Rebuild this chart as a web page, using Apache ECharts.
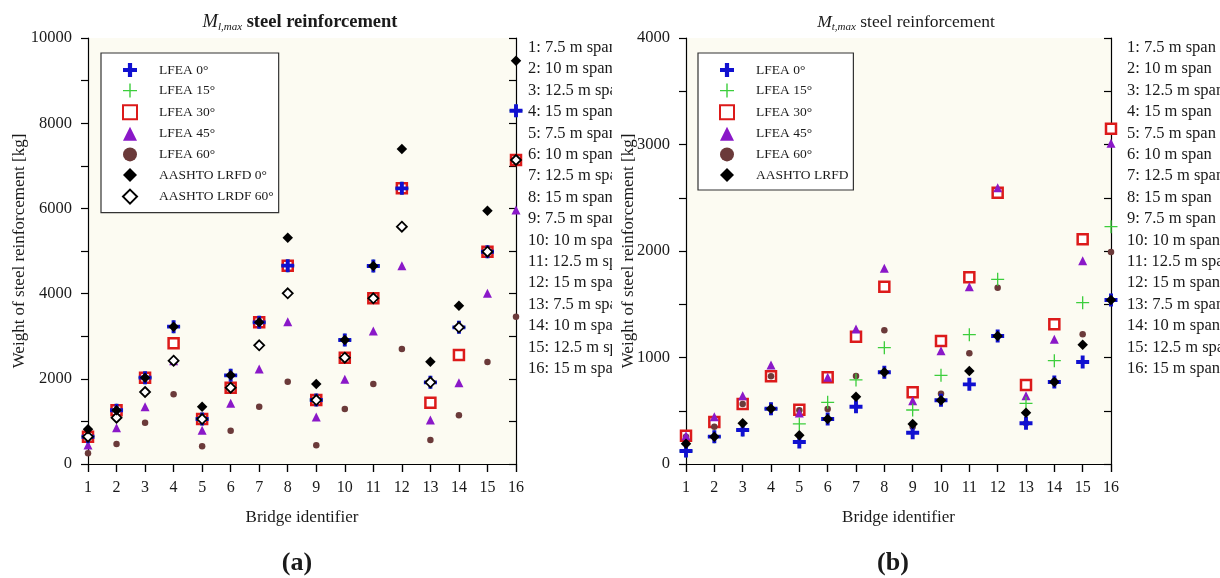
<!DOCTYPE html>
<html>
<head>
<meta charset="utf-8">
<script src="https://cdn.jsdelivr.net/npm/echarts@6/dist/echarts.min.js"></script>
<style>
html, body { margin: 0; padding: 0; background: #fff; }
#wrap { position: relative; width: 1220px; height: 578px; overflow: hidden; }
#chartA { position: absolute; left: 0; top: 0; width: 612px; height: 578px; }
#chartB { position: absolute; left: 612px; top: 0; width: 608px; height: 578px; }
</style>
</head>
<body>
<div id="wrap"><div id="chartA"></div><div id="chartB"></div></div>
<script>
// bridge ids on x axis
const bridgeIds = [1, 2, 3, 4, 5, 6, 7, 8, 9, 10, 11, 12, 13, 14, 15, 16];
const spanLabels = [
    '1: 7.5 m span', '2: 10 m span', '3: 12.5 m span', '4: 15 m span',
    '5: 7.5 m span', '6: 10 m span', '7: 12.5 m span', '8: 15 m span',
    '9: 7.5 m span', '10: 10 m span', '11: 12.5 m span', '12: 15 m span',
    '13: 7.5 m span', '14: 10 m span', '15: 12.5 m span', '16: 15 m span'
];

// (a) M_l,max  [kg]
const lLfea0   = [641, 1260, 2027, 3224, 1056, 2081, 3325, 4656, 1502, 2911, 4648, 6471, 1917, 3208, 4984, 8294];
const lLfea15  = [641, 1260, 2027, 3224, 1056, 2081, 3325, 4656, 1502, 2911, 4648, 6471, 1917, 3208, 4984, 8294];
const lLfea30  = [641, 1260, 2027, 2833, 1056, 1792, 3325, 4656, 1502, 2496, 3889, 6471, 1440, 2559, 4984, 7136];
const lLfea45  = [446, 853, 1346, 2426, 790, 1424, 2230, 3341, 1103, 1987, 3122, 4656, 1033, 1909, 4006, 5962];
const lLfea60  = [250, 470, 970, 1636, 415, 783, 1346, 1933, 438, 1291, 1878, 2700, 563, 1142, 2394, 3458];
const lAashto0 = [815, 1260, 2027, 3224, 1346, 2081, 3325, 5313, 1878, 2911, 4648, 7394, 2402, 3717, 5946, 9468];
const lAashto60 = [641, 1088, 1690, 2426, 1056, 1792, 2786, 4006, 1502, 2496, 3889, 5571, 1917, 3208, 4984, 7136];

// (b) M_t,max  [kg]
const tLfea0   = [122, 257, 319, 519, 207, 423, 538, 861, 294, 598, 748, 1202, 382, 770, 958, 1540];
const tLfea15  = [122, 257, 319, 519, 376, 579, 789, 1092, 507, 833, 1214, 1734, 570, 970, 1515, 2228];
const tLfea30  = [266, 394, 563, 823, 510, 814, 1196, 1665, 673, 1155, 1753, 2548, 742, 1312, 2110, 3149];
const tLfea45  = [266, 444, 642, 930, 478, 814, 1268, 1838, 595, 1064, 1665, 2595, 642, 1171, 1909, 3011];
const tLfea60  = [255, 350, 563, 823, 505, 516, 826, 1255, 350, 660, 1039, 1656, 382, 780, 1218, 1991];
const tAashto  = [191, 257, 382, 519, 269, 423, 632, 861, 376, 598, 873, 1202, 482, 770, 1120, 1540];

const SERIF = "'Liberation Serif', 'Times New Roman', serif";
const INK = '#1a1a1a';
const CROSS_THICK = 'path://M35,0h30v35h35v30h-35v35h-30v-35h-35v-30h35z';
const CROSS_THIN = 'path://M45,0h10v45h45v10h-45v45h-10v-45h-45v-10h45z';

// marker look per series kind
const looks = {
    lfea0:  { symbol: CROSS_THICK, size: 13, itemStyle: { color: '#1010d0', opacity: 1 } },
    lfea15: { symbol: CROSS_THIN, size: 13, itemStyle: { color: '#3cce3c', opacity: 1 } },
    lfea30: { symbol: 'rect', size: 10, itemStyle: { color: '#fff', borderColor: '#dc1a1a', borderWidth: 2.5, opacity: 1 } },
    lfea45: { symbol: 'triangle', size: 9, itemStyle: { color: '#8a18c8', opacity: 1 } },
    lfea60: { symbol: 'circle', size: 6.5, itemStyle: { color: '#6b3a3a', opacity: 1 } },
    aashto: { symbol: 'diamond', size: 10.5, itemStyle: { color: '#000', opacity: 1 } },
    aashtoOpen: { symbol: 'diamond', size: 10, itemStyle: { color: '#fff', borderColor: '#000', borderWidth: 1.8, opacity: 1 } }
};

function scatter(name, kind, values) {
    const lk = looks[kind];
    return {
        name: name,
        type: 'scatter',
        symbol: lk.symbol,
        symbolSize: lk.size,
        itemStyle: lk.itemStyle,
        clip: false,
        silent: true,
        data: bridgeIds.map((b, i) => [b, values[i]])
    };
}

function makeOption(cfg) {
    const axisLine = { show: true, lineStyle: { color: '#000', width: 1.2 } };
    const tickStyle = { color: '#000', width: 1.2 };
    return {
        animation: false,
        textStyle: { fontFamily: SERIF },
        grid: {
            left: cfg.gridLeft, top: 38, width: cfg.gridWidth, height: 426,
            outerBoundsMode: 'none',
            show: true, backgroundColor: '#fcfbf2', borderWidth: 0
        },
        legend: {
            orient: 'vertical',
            left: cfg.legendLeft, top: 53,
            data: cfg.legendNames,
            selectedMode: false,
            itemWidth: 14, itemHeight: 14, itemGap: 6.6,
            padding: [10, 5, 8, 21],
            backgroundColor: '#fff',
            borderColor: '#333', borderWidth: 1.2,
            textStyle: { fontFamily: SERIF, fontSize: 13.5, color: INK, padding: [0, 0, 0, 17] }
        },
        xAxis: [{
            type: 'value', min: 1, max: 16, interval: 1, position: 'bottom',
            axisLine: axisLine,
            axisTick: { show: true, inside: false, length: 8, lineStyle: tickStyle },
            axisLabel: { margin: 16, fontSize: 16, color: INK, fontFamily: SERIF },
            splitLine: { show: false },
            name: 'Bridge identifier', nameLocation: 'middle', nameGap: 45,
            nameMoveOverlap: false,
            nameTextStyle: { fontSize: 17, color: INK, fontFamily: SERIF }
        }, {
            type: 'value', min: 1, max: 16, interval: 1, position: 'top',
            axisLine: axisLine,
            axisTick: { show: true, inside: true, length: 8, lineStyle: tickStyle },
            axisLabel: { show: false },
            splitLine: { show: false }
        }],
        yAxis: [{
            type: 'value', min: 0, max: cfg.yMax, interval: cfg.yStep, position: 'left',
            axisLine: axisLine,
            axisTick: { show: true, inside: false, length: 7, lineStyle: tickStyle },
            minorTick: { show: true, splitNumber: 2, length: 7, lineStyle: tickStyle },
            axisLabel: { margin: cfg.labelMargin, fontSize: 16.5, color: INK, fontFamily: SERIF, formatter: v => String(v) },
            splitLine: { show: false },
            minorSplitLine: { show: false },
            name: 'Weight of steel reinforcement [kg]', nameLocation: 'middle', nameGap: cfg.nameGap,
            nameMoveOverlap: false,
            nameTextStyle: { fontSize: 17, color: INK, fontFamily: SERIF }
        }, {
            type: 'value', min: 0, max: cfg.yMax, interval: cfg.yStep / 2, position: 'right',
            axisLine: axisLine,
            axisTick: { show: true, inside: true, length: 7, lineStyle: tickStyle },
            axisLabel: { show: false },
            splitLine: { show: false }
        }],
        graphic: [{
            type: 'text', x: cfg.titleX, y: 22,
            style: {
                text: '{m|M}{s|' + cfg.sub + '}{b| steel reinforcement}',
                align: 'center', verticalAlign: 'middle',
                rich: {
                    m: { fontSize: cfg.titleSize, fontStyle: 'italic', fontFamily: SERIF, fill: INK, lineHeight: 22 },
                    s: { fontSize: 11, fontStyle: 'italic', fontFamily: SERIF, fill: INK, lineHeight: 22, verticalAlign: 'bottom' },
                    b: { fontSize: cfg.titleSize, fontWeight: cfg.titleWeight, fontFamily: SERIF, fill: INK, lineHeight: 22 }
                }
            }
        }, {
            type: 'text', x: cfg.sideX, y: 37,
            style: {
                text: spanLabels.join('\n'),
                font: '16.5px ' + SERIF, fill: INK, lineHeight: 21.4
            }
        }, {
            type: 'text', x: cfg.tagX, y: 563,
            style: {
                text: cfg.tag, font: 'bold 26px ' + SERIF, fill: INK,
                align: 'center', verticalAlign: 'middle'
            }
        }],
        series: cfg.series
    };
}

const optA = makeOption({
    gridLeft: 88, gridWidth: 428, yMax: 10000, yStep: 2000, labelMargin: 16, nameGap: 60,
    legendLeft: 101, titleX: 300, titleSize: 18.5, sub: 'l,max', titleWeight: 'bold',
    sideX: 528, tagX: 297, tag: '(a)',
    legendNames: ['LFEA 0°', 'LFEA 15°', 'LFEA 30°', 'LFEA 45°', 'LFEA 60°', 'AASHTO LRFD 0°', 'AASHTO LRDF 60°'],
    series: [
        scatter('LFEA 30°', 'lfea30', lLfea30),
        scatter('LFEA 60°', 'lfea60', lLfea60),
        scatter('LFEA 45°', 'lfea45', lLfea45),
        scatter('LFEA 15°', 'lfea15', lLfea15),
        scatter('LFEA 0°', 'lfea0', lLfea0),
        scatter('AASHTO LRDF 60°', 'aashtoOpen', lAashto60),
        scatter('AASHTO LRFD 0°', 'aashto', lAashto0)
    ]
});

const optB = makeOption({
    gridLeft: 74, gridWidth: 425, yMax: 4000, yStep: 1000, labelMargin: 16, nameGap: 49,
    legendLeft: 86, titleX: 294, titleSize: 17.5, sub: 't,max', titleWeight: 'normal',
    sideX: 515, tagX: 281, tag: '(b)',
    legendNames: ['LFEA 0°', 'LFEA 15°', 'LFEA 30°', 'LFEA 45°', 'LFEA 60°', 'AASHTO LRFD'],
    series: [
        scatter('LFEA 30°', 'lfea30', tLfea30),
        scatter('LFEA 60°', 'lfea60', tLfea60),
        scatter('LFEA 45°', 'lfea45', tLfea45),
        scatter('LFEA 15°', 'lfea15', tLfea15),
        scatter('LFEA 0°', 'lfea0', tLfea0),
        scatter('AASHTO LRFD', 'aashto', tAashto)
    ]
});

echarts.init(document.getElementById('chartA')).setOption(optA);
echarts.init(document.getElementById('chartB')).setOption(optB);
</script>
</body>
</html>
